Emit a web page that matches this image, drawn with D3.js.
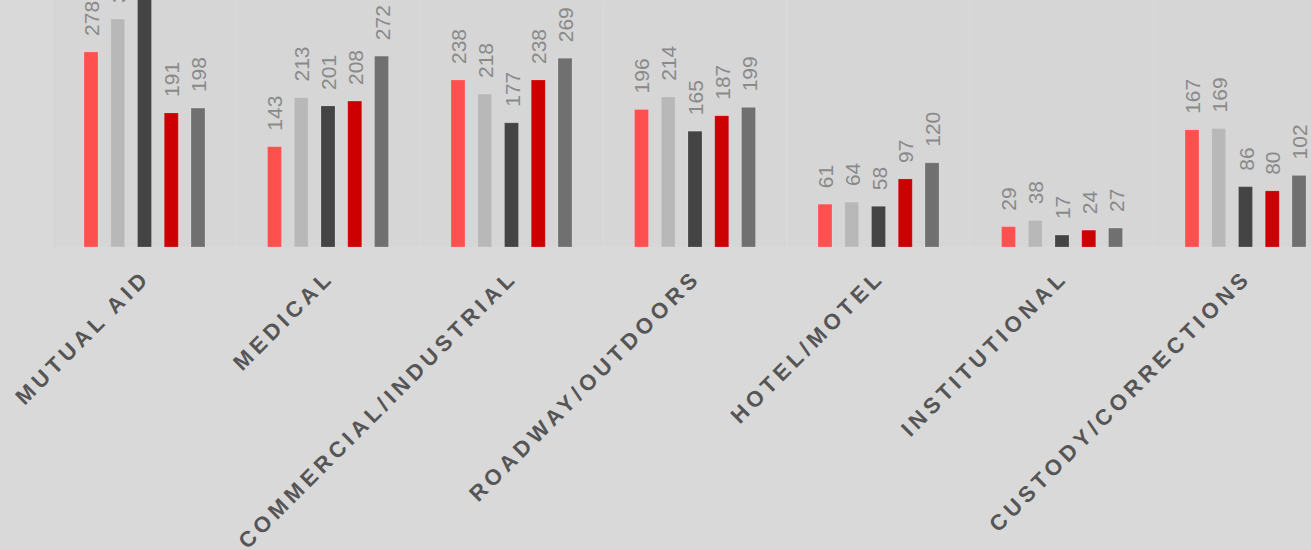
<!DOCTYPE html>
<html lang="en">
<head>
  <meta charset="UTF-8">
  <title>Incidents by Type</title>
  <script src="https://d3js.org/d3.v7.min.js"></script>
  <style>
    html, body { margin: 0; padding: 0; background: #d9d9d9; }
    svg { display: block; font-family: "Liberation Sans", Arial, sans-serif; }
  </style>
</head>
<body>
  <svg id="chart"></svg>

  <script>
    const categories = ["MUTUAL AID", "MEDICAL", "COMMERCIAL/INDUSTRIAL", "ROADWAY/OUTDOORS",
                        "HOTEL/MOTEL", "INSTITUTIONAL", "CUSTODY/CORRECTIONS"];
    const seriesNames = ["s1", "s2", "s3", "s4", "s5"];
    const s1 = [278, 143, 238, 196, 61, 29, 167];
    const s2 = [325, 213, 218, 214, 64, 38, 169];
    const s3 = [360, 201, 177, 165, 58, 17, 86];
    const s4 = [191, 208, 238, 187, 97, 24, 80];
    const s5 = [198, 272, 269, 199, 120, 27, 102];
    const seriesValues = [s1, s2, s3, s4, s5];
    const colors = ["#ff5050", "#b8b8b8", "#444444", "#cc0000", "#707070"];

    const width = 1311;
    const height = 550;
    const baseline = 247;
    const groupStep = 183.5;
    const left = 52.75;

    const svg = d3.select("#chart")
      .attr("width", width)
      .attr("height", height);

    const x0 = d3.scaleBand()
      .domain(categories)
      .range([left, left + groupStep * categories.length])
      .padding(0);

    const x1 = d3.scaleBand()
      .domain(seriesNames)
      .range([0, x0.bandwidth()])
      .paddingInner(0.477)
      .paddingOuter(1.168);

    const y = d3.scaleLinear()
      .domain([0, 352])
      .range([baseline, 0]);

    svg.append("defs").append("clipPath")
      .attr("id", "plot-clip")
      .append("rect")
      .attr("x", 0).attr("y", 0)
      .attr("width", width).attr("height", baseline);

    // plot background per group
    svg.selectAll("rect.band")
      .data(categories)
      .enter()
      .append("rect")
      .attr("class", "band")
      .attr("x", d => x0(d))
      .attr("y", 0)
      .attr("width", x0.bandwidth())
      .attr("height", baseline)
      .attr("fill", "#d6d6d6")
      .attr("stroke", "#d9d9d9")
      .attr("stroke-width", 1);

    const rows = categories.map((c, i) => ({
      category: c,
      values: seriesNames.map((s, j) => ({ key: s, idx: j, value: seriesValues[j][i] }))
    }));

    const groups = svg.append("g")
      .attr("clip-path", "url(#plot-clip)")
      .selectAll("g")
      .data(rows)
      .enter()
      .append("g")
      .attr("transform", d => `translate(${x0(d.category)},0)`);

    groups.selectAll("rect")
      .data(d => d.values)
      .enter()
      .append("rect")
      .attr("x", d => x1(d.key))
      .attr("y", d => y(d.value))
      .attr("width", x1.bandwidth())
      .attr("height", d => baseline - y(d.value))
      .attr("fill", d => colors[d.idx])
      .attr("stroke", "rgba(255,255,255,0.18)")
      .attr("stroke-width", 1);

    groups.selectAll("text")
      .data(d => d.values)
      .enter()
      .append("text")
      .attr("transform", d => `translate(${x1(d.key) + x1.bandwidth() / 2 + 8},${y(d.value) - 16}) rotate(-90)`)
      .attr("text-anchor", "start")
      .attr("fill", "#8a8a8a")
      .style("font-size", "21px")
      .text(d => d.value);

    // category labels
    svg.selectAll("text.cat")
      .data(categories)
      .enter()
      .append("text")
      .attr("class", "cat")
      .attr("transform", d => `translate(${x0(d) + x0.bandwidth() / 2 + 7},${baseline + 32}) rotate(-45)`)
      .attr("text-anchor", "end")
      .attr("fill", "#555555")
      .style("font-size", "22px")
      .style("font-weight", "bold")
      .style("letter-spacing", "4.4px")
      .text(d => d);
  </script>
</body>
</html>
